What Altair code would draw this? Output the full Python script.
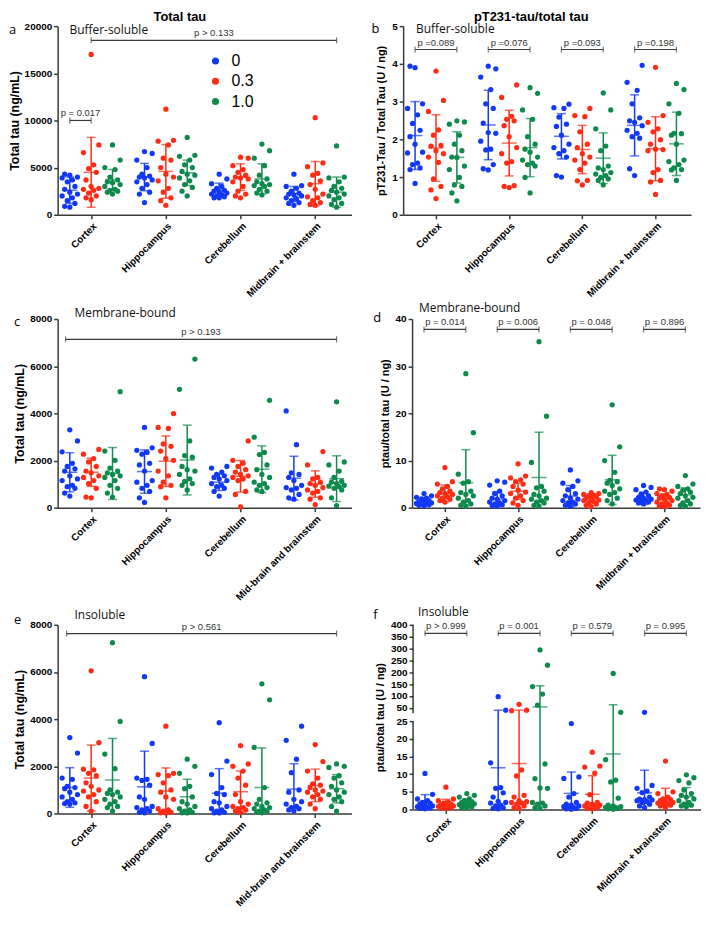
import altair as alt
import pandas as pd

FONT = "Liberation Sans"
SUBFONT = "Open Sans"
AX = "#3a3a3a"
DOSES = ["0", "0.3", "1.0"]
COLORS = ["#1238f7", "#ff2b14", "#0e8a4c"]
REG_TOP = ["Cortex", "Hippocampus", "Cerebellum", "Midbrain + brainstem"]
REG_MID = ["Cortex", "Hippocampus", "Cerebellum", "Mid-brain and brainstem"]

# ---------------- panel a : total tau, buffer-soluble (ng/mL) ----------------
A_CORTEX = [[4300, 4200, 4000, 3900, 3700, 3500, 3000, 2700, 2400, 2200, 2000, 1800, 1500, 1200, 900, 800],
            [17000, 7400, 6600, 5300, 4900, 4500, 3700, 3000, 2800, 2700, 2600, 2300, 2000, 1800, 1600],
            [7400, 5800, 5000, 4800, 4000, 3700, 3500, 3400, 3200, 3000, 2700, 2600, 2500, 2400, 2200]]
A_HIPPO = [[6700, 6500, 5800, 5000, 4300, 4100, 4000, 3900, 3700, 3500, 3200, 2800, 2400, 2200, 1300],
           [11200, 7900, 7800, 7400, 6000, 5800, 5000, 4300, 4000, 3600, 2800, 2400, 1800, 1500, 1000],
           [8200, 6300, 6200, 5800, 5300, 5000, 4600, 4300, 4200, 3900, 3600, 3200, 2900, 2500, 2000]]
A_CEREB = [[4300, 3800, 3300, 3000, 2800, 2600, 2500, 2400, 2300, 2200, 2100, 2000, 1900, 1800, 1800],
           [6100, 6000, 5200, 4800, 4500, 4200, 4000, 3900, 3800, 3500, 3000, 2500, 2200, 2000, 1800],
           [7500, 6800, 6000, 5200, 4200, 3800, 3500, 3300, 3200, 3100, 3000, 2700, 2500, 2300, 2100]]
A_MIDB = [[4300, 3100, 3000, 2800, 2500, 2300, 2200, 2100, 2000, 1800, 1700, 1500, 1300, 1200, 1000],
          [10300, 5500, 5100, 4400, 4200, 3600, 3200, 2700, 2200, 1900, 1800, 1500, 1300, 1100, 1000],
          [7300, 4000, 3900, 3500, 3000, 2800, 2600, 2400, 2200, 2000, 1800, 1600, 1200, 1100, 800]]
A_MEAN = [[2600, 4500, 3700], [4000, 4600, 4450], [2650, 4000, 3800], [2200, 3300, 2400]]
A_SD = [[1400, 3700, 1100], [1450, 2850, 1350], [700, 1400, 1600], [800, 2350, 1600]]
A_BR_X1 = [0, 1]
A_BR_X2 = [1, 12.5]
A_BR_Y = [10000, 18500]
A_BR_T = ["p = 0.017", "p > 0.133"]

# ---------------- panel b : pT231/total tau, buffer-soluble ----------------
B_CORTEX = [[3.94, 3.90, 2.94, 2.82, 2.65, 2.42, 2.24, 2.07, 1.87, 1.66, 1.64, 1.37, 1.33, 1.24, 1.20, 0.83],
            [3.81, 3.03, 2.74, 2.25, 2.11, 1.84, 1.82, 1.70, 1.62, 1.53, 1.39, 0.95, 0.75, 0.66, 0.43],
            [2.49, 2.46, 2.40, 2.11, 1.87, 1.70, 1.53, 1.52, 1.29, 1.20, 0.99, 0.79, 0.75, 0.58, 0.37]]
B_HIPPO = [[3.94, 3.87, 3.65, 3.32, 2.94, 2.82, 2.43, 2.18, 2.16, 1.95, 1.74, 1.72, 1.33, 1.22, 1.19],
           [3.44, 3.11, 2.61, 2.53, 2.49, 2.36, 2.07, 1.78, 1.62, 1.41, 1.37, 0.77, 0.75, 0.72],
           [3.37, 3.22, 2.78, 2.53, 2.07, 1.87, 1.74, 1.66, 1.53, 1.45, 1.37, 1.33, 1.29, 0.99, 0.58]]
B_CEREB = [[2.93, 2.84, 2.82, 2.59, 2.40, 2.34, 2.11, 1.87, 1.78, 1.70, 1.62, 1.53, 1.04, 1.00],
           [2.82, 2.63, 2.60, 2.20, 1.87, 1.78, 1.62, 1.53, 1.45, 1.37, 1.20, 0.91, 0.90, 0.79],
           [3.23, 2.78, 2.28, 1.82, 1.70, 1.29, 1.24, 1.20, 1.12, 1.08, 1.04, 0.99, 0.95, 0.91, 0.79]]
B_MIDB = [[3.96, 3.51, 3.30, 2.94, 2.57, 2.49, 2.45, 2.36, 2.24, 2.16, 2.07, 2.03, 1.22, 1.04],
          [3.91, 2.63, 2.45, 2.28, 2.20, 1.99, 1.87, 1.74, 1.73, 1.70, 1.20, 1.12, 0.91, 0.87, 0.54],
          [3.48, 3.32, 2.94, 2.69, 2.16, 2.15, 2.11, 1.87, 1.45, 1.41, 1.33, 1.24, 1.20, 1.19, 0.91]]
B_MEAN = [[2.1, 1.77, 1.52], [2.38, 1.9, 1.78], [2.08, 1.73, 1.5], [2.37, 1.75, 1.88]]
B_SD = [[0.9, 0.88, 0.68], [0.92, 0.87, 0.77], [0.6, 0.64, 0.67], [0.81, 0.85, 0.84]]
B_BR_X1 = [0, 3.5, 7, 10.5]
B_BR_X2 = [2, 5.5, 9, 12.5]
B_BR_Y = [4.38, 4.38, 4.38, 4.38]
B_BR_T = ["p =0.089", "p =0.076", "p =0.093", "p =0.198"]

# ---------------- panel c : total tau, membrane-bound ----------------
C_CORTEX = [[3300, 2830, 2370, 1880, 1750, 1650, 1550, 1350, 1220, 1150, 950, 890, 820, 620, 490],
            [2470, 2270, 2080, 1940, 1750, 1550, 1480, 1350, 1280, 1150, 1020, 820, 450, 420],
            [4920, 2400, 2010, 1680, 1550, 1480, 1410, 1350, 1280, 1150, 950, 820, 620, 450]]
C_HIPPO = [[3400, 2540, 2430, 2340, 2270, 1880, 1810, 1550, 1150, 1080, 950, 820, 690, 420, 220],
           [3990, 3400, 3360, 2700, 2600, 2400, 2080, 2010, 1550, 1350, 1080, 950, 890, 420],
           [6300, 5020, 2830, 2210, 2140, 1750, 1610, 1550, 1410, 1220, 1110, 1020, 950, 750]]
C_CEREB = [[1750, 1680, 1510, 1410, 1350, 1280, 1220, 1150, 1020, 950, 890, 820, 690, 490],
           [2830, 2010, 1880, 1750, 1610, 1510, 1410, 1350, 1280, 1220, 1150, 690, 560, 30],
           [4550, 2990, 2340, 2250, 1810, 1610, 1410, 1280, 1080, 1020, 950, 850, 750, 690]]
C_MIDB = [[4100, 2670, 1480, 1410, 1280, 1150, 950, 850, 820, 750, 560, 420, 360],
          [2380, 1810, 1280, 1220, 1080, 1020, 950, 850, 750, 690, 620, 420, 360, 130],
          [4490, 1940, 1810, 1550, 1280, 1110, 1080, 1020, 950, 910, 890, 820, 750, 420, 90]]
C_MEAN = [[1500, 1500, 1450], [1530, 1970, 2020], [1080, 1330, 1630], [1250, 1000, 1230]]
C_SD = [[830, 600, 1100], [920, 1070, 1480], [350, 670, 990], [930, 560, 970]]
C_BR_X1 = [-0.2]
C_BR_X2 = [12.5]
C_BR_Y = [7140]
C_BR_T = ["p > 0.193"]

# ---------------- panel d : ptau/total tau, membrane-bound ----------------
D_CORTEX = [[3.0, 2.5, 2.2, 2.0, 1.8, 1.5, 1.3, 1.2, 1.0, 0.9, 0.8, 0.7, 0.6, 0.5, 0.4],
            [8.5, 5.5, 5.0, 4.5, 4.0, 3.5, 3.2, 3.0, 2.8, 2.5, 2.3, 2.0, 1.8, 1.5, 1.2],
            [28.4, 15.9, 7.1, 5.5, 5.2, 3.5, 3.2, 2.8, 2.5, 2.0, 1.5, 1.2, 0.8, 0.5, 0.3]]
D_HIPPO = [[5.7, 5.4, 4.8, 3.5, 3.0, 2.5, 2.0, 1.8, 1.5, 1.2, 1.0, 0.8, 0.6, 0.4, 0.3],
           [9.3, 6.7, 6.3, 5.9, 5.5, 5.0, 4.5, 3.7, 3.3, 3.0, 2.5, 2.0, 1.5, 1.0, 0.5],
           [35.2, 19.4, 9.6, 4.5, 4.2, 3.5, 2.8, 2.5, 2.0, 1.8, 1.5, 1.2, 1.0, 0.5, 0.3]]
D_CEREB = [[8.0, 5.7, 5.2, 4.5, 3.8, 3.0, 2.5, 2.0, 1.8, 1.5, 1.2, 1.0, 0.8, 0.5, 0.3],
           [3.2, 3.0, 2.8, 2.6, 2.5, 2.3, 2.0, 1.8, 1.6, 1.5, 1.3, 1.0, 0.8, 0.5, 0.2],
           [21.8, 12.9, 10.0, 7.5, 5.8, 5.5, 5.2, 4.7, 4.0, 3.5, 3.2, 2.8, 2.0, 1.5, 0.8]]
D_MIDB = [[4.7, 4.3, 3.8, 3.3, 2.8, 2.5, 2.2, 2.0, 1.8, 1.6, 1.5, 1.4, 1.2, 1.0, 0.8],
          [4.0, 3.8, 3.5, 3.0, 2.8, 2.5, 2.2, 2.0, 1.8, 1.5, 1.2, 1.0, 0.8, 0.5, 0.3, 0.2],
          [6.8, 5.0, 4.5, 4.0, 3.7, 3.3, 3.0, 2.5, 2.2, 2.0, 1.5, 1.0, 0.8, 0.5, 0.3]]
D_MEAN = [[1.35, 3.0, 5.3], [1.85, 3.5, 6.4], [2.45, 2.0, 5.9], [2.0, 1.8, 2.7]]
D_SD = [[0.85, 1.8, 7.0], [1.55, 1.7, 9.6], [2.25, 0.9, 5.2], [1.3, 1.1, 1.5]]
D_BR_X1 = [0, 3.5, 7, 10.5]
D_BR_X2 = [2, 5.5, 9, 12.5]
D_BR_Y = [37.8, 37.8, 37.8, 37.8]
D_BR_T = ["p = 0.014", "p = 0.006", "p = 0.048", "p = 0.896"]

# ---------------- panel e : total tau, insoluble ----------------
E_CORTEX = [[3220, 2560, 1500, 1450, 1150, 1100, 1050, 900, 800, 700, 600, 500, 450, 420, 400],
            [6050, 3000, 1880, 1850, 1700, 1600, 1300, 1150, 1000, 950, 800, 700, 500, 300, 100],
            [7240, 3900, 2520, 1900, 1000, 900, 850, 800, 700, 600, 500, 400, 300, 250, 100]]
E_HIPPO = [[5800, 2970, 1500, 1450, 1400, 1200, 700, 600, 300, 250, 200, 150, 100, 50, 30],
           [3700, 1700, 1650, 1600, 1300, 1000, 900, 700, 600, 200, 150, 100, 50, 30, 20],
           [2300, 2000, 1700, 1150, 1050, 700, 500, 400, 300, 200, 150, 100, 50, 30, 20]]
E_CEREB = [[3850, 2220, 1650, 1100, 850, 800, 500, 450, 300, 200, 150, 100, 50, 30, 20],
           [2880, 2100, 2000, 1800, 1500, 1200, 800, 500, 400, 300, 250, 200, 150, 100, 50],
           [5500, 4820, 2800, 1100, 600, 450, 400, 300, 250, 200, 150, 100, 80, 50, 30]]
E_MIDB = [[3700, 3100, 2300, 1730, 1000, 900, 600, 500, 400, 300, 250, 200, 150, 100],
          [2920, 2200, 1800, 1500, 1250, 1200, 1100, 1000, 950, 900, 800, 700, 600, 400, 200],
          [2100, 2000, 1950, 1600, 1500, 1300, 1150, 1000, 900, 800, 700, 600, 500, 300, 100]]
E_MEAN = [[1100, 1500, 1420], [1130, 950, 710], [860, 920, 1100], [1030, 1190, 1050]]
E_SD = [[840, 1400, 1760], [1510, 980, 740], [1040, 880, 1680], [1080, 690, 600]]
E_BR_X1 = [-0.15]
E_BR_X2 = [12.5]
E_BR_Y = [7630]
E_BR_T = ["p > 0.561"]

# ---------------- panel f : ptau/total tau, insoluble (broken axis) ----------------
F_CORTEX = [[10.2, 4.3, 3.0, 2.5, 2.0, 1.8, 1.5, 1.3, 1.0, 0.8, 0.6, 0.5, 0.4, 0.3, 0.2],
            [6.3, 3.0, 2.5, 2.0, 1.8, 1.5, 1.3, 1.2, 1.0, 0.9, 0.8, 0.6, 0.5, 0.4, 0.3],
            [4.5, 4.0, 3.5, 3.0, 2.5, 2.2, 2.0, 1.8, 1.6, 1.4, 1.2, 1.0, 0.8, 0.6, 0.5]]
F_HIPPO = [[97, 40, 13.2, 6.2, 6.0, 4.7, 3.5, 2.3, 2.0, 1.8, 1.2, 1.0, 0.5, 0.3, 0.2],
           [65, 40, 38, 11.2, 9.5, 4.0, 3.5, 2.5, 2.2, 2.0, 1.8, 1.5, 1.0, 0.5, 0.3],
           [294, 230, 140, 108, 62, 12.9, 8.7, 6.1, 6.0, 2.0, 1.8, 1.5, 1.0, 0.5, 0.3]]
F_CEREB = [[24.3, 9.2, 8.8, 4.5, 3.5, 2.0, 1.5, 1.2, 1.0, 0.8, 0.5, 0.4, 0.3, 0.2, 0.1],
           [16.2, 12.3, 12.0, 10.3, 4.2, 2.0, 1.8, 1.5, 1.2, 1.0, 0.8, 0.5, 0.4, 0.3, 0.2],
           [195, 31, 14.1, 8.3, 7.8, 3.2, 1.2, 1.0, 0.8, 0.6, 0.5, 0.4, 0.3, 0.2, 0.1]]
F_MIDB = [[31, 6.8, 6.0, 5.2, 4.8, 3.5, 2.9, 2.8, 2.7, 2.5, 2.2, 2.0, 1.5, 1.0, 0.5],
          [13.7, 5.0, 4.5, 3.5, 3.0, 2.8, 2.5, 2.2, 2.0, 1.8, 1.6, 1.5, 1.2, 1.0, 0.5],
          [9.8, 9.0, 8.2, 7.5, 5.5, 4.5, 4.0, 3.5, 3.0, 2.5, 2.0, 1.5, 1.2, 1.0, 0.8]]
F_MEAN = [[2.0, 1.5, 1.8], [11.8, 13.0, 54], [4.55, 4.3, 15.7], [4.7, 3.0, 3.6]]
F_SD = [[2.2, 1.4, 1.2], [28.2, 27.0, 89], [6.05, 5.25, 47.3], [6.4, 3.0, 2.6]]
F_BR_X1 = [0, 3.5, 7, 10.5]
F_BR_X2 = [2, 5.5, 9, 12.5]
F_BR_Y = [364, 364, 364, 364]
F_BR_T = ["p > 0.999", "p = 0.001", "p = 0.579", "p = 0.995"]
F_TICKS = [0, 5, 10, 15, 20, 25, 50, 100, 150, 200, 250, 300, 350, 400]
F_BREAK = [25, 27.6]

JIT = "[0, -0.24, 0.24, -0.12, 0.12, -0.36, 0.36]"
XSCALE = alt.Scale(domain=[-0.57, 13.2], nice=False, zero=False)
CSCALE = alt.Scale(domain=DOSES, range=COLORS)
LEGEND = alt.Legend(title=None, orient="none", legendX=151, legendY=27, symbolType="circle",
                    symbolSize=50, labelFontSize=16, labelFont=FONT, rowPadding=4.5,
                    symbolStrokeWidth=0, labelOffset=8, padding=0)


def panel(groups, means, sds, regions, yscale, yticks, ytitle, tsize, tpad,
          letter, lpos, sub, spos, br, W, H, title=None, broken=False):
    rows = []
    for g in range(4):
        for d in range(3):
            for v in groups[g][d]:
                rows.append({"g": g, "d": d, "dose": DOSES[d], "v": v})
    pdf = pd.DataFrame(rows)
    sdf = pd.DataFrame([{"g": g, "d": d, "dose": DOSES[d], "m": means[g][d], "s": sds[g][d]}
                        for g in range(4) for d in range(3)])
    names = ",".join("'" + r + "'" for r in regions)
    xaxis = alt.Axis(values=[1, 4.5, 8, 11.5], labelExpr="[" + names + "][round((datum.value - 1) / 3.5)]",
                     title=None, labelAngle=-45, labelAlign="right", labelBaseline="top",
                     labelFontSize=10, labelPadding=2, grid=False, labelOverlap=False, labelLimit=0)
    yaxis = alt.Axis(values=yticks, title=ytitle, titleFontSize=tsize, titlePadding=tpad, format="d",
                     grid=False, domain=not broken, labelFontSize=10, labelOverlap=False)
    color = alt.Color("dose:N", scale=CSCALE, legend=LEGEND)
    colorn = alt.Color("dose:N", scale=CSCALE, legend=None)

    def X(f):
        return alt.X(f, scale=XSCALE, axis=xaxis)

    def Y(f):
        return alt.Y(f, scale=yscale, axis=yaxis)

    pts = (alt.Chart(pdf)
           .transform_window(rk="row_number()", groupby=["g", "d"], sort=[alt.SortField("v", order="ascending")])
           .transform_calculate(xp="datum.g * 3.5 + datum.d + " + JIT + "[(datum.rk - 1) % 7]")
           .mark_circle(size=28, opacity=1)
           .encode(x=X("xp:Q"), y=Y("v:Q"), color=color))
    st = alt.Chart(sdf).transform_calculate(xp="datum.g * 3.5 + datum.d", hi="datum.m + datum.s",
                                            lo="max(datum.m - datum.s, 0)")
    bar = st.mark_rule(strokeWidth=1.5).encode(x=X("xp:Q"), y=Y("lo:Q"), y2="hi:Q", color=colorn)
    mean = st.mark_tick(orient="horizontal", size=15, thickness=1.5).encode(
        x=X("xp:Q"), y=Y("m:Q"), color=colorn)
    caphi = st.mark_tick(orient="horizontal", size=9, thickness=1.5).encode(
        x=X("xp:Q"), y=Y("hi:Q"), color=colorn)
    caplo = st.transform_filter("datum.m - datum.s > 0").mark_tick(orient="horizontal", size=9, thickness=1.5).encode(
        x=X("xp:Q"), y=Y("lo:Q"), color=colorn)

    bdf = pd.DataFrame({"x1": br[0], "x2": br[1], "y": br[2], "t": br[3]})
    bb = alt.Chart(bdf)
    brule = bb.mark_rule(color=AX, strokeWidth=1.2).encode(x=X("x1:Q"), x2="x2:Q", y=Y("y:Q"))
    bc1 = bb.mark_tick(orient="vertical", size=6, thickness=1.2, color=AX).encode(x=X("x1:Q"), y=Y("y:Q"))
    bc2 = bb.mark_tick(orient="vertical", size=6, thickness=1.2, color=AX).encode(x=X("x2:Q"), y=Y("y:Q"))
    btxt = bb.transform_calculate(xm="(datum.x1 + datum.x2) / 2").mark_text(
        font=FONT, fontSize=9.5, color="#333333", dy=-4, baseline="alphabetic").encode(
        x=X("xm:Q"), y=Y("y:Q"), text="t:N")

    lt = alt.Chart(pd.DataFrame({"t": [letter]})).mark_text(
        align="left", baseline="middle", font=SUBFONT, fontSize=13, color="black").encode(
        x=alt.value(lpos[0]), y=alt.value(lpos[1]), text="t:N")
    stt = alt.Chart(pd.DataFrame({"t": [sub]})).mark_text(
        align="left", baseline="middle", font=SUBFONT, fontSize=12, color="#111111").encode(
        x=alt.value(spos[0]), y=alt.value(spos[1]), text="t:N")

    layers = [pts, bar, mean, caphi, caplo, brule, bc1, bc2, btxt, lt, stt]
    if broken:
        adf = pd.DataFrame({"y1": [0, F_BREAK[1]], "y2": [F_BREAK[0], 400]})
        axr = alt.Chart(adf).mark_rule(color=AX, strokeWidth=1.5).encode(
            x=alt.value(0), y=Y("y1:Q"), y2="y2:Q")
        layers.append(axr)
    ch = alt.layer(*layers).properties(width=W, height=H)
    if title:
        ch = ch.properties(title=alt.TitleParams(title, frame="bounds", anchor="middle", fontSize=13,
                                                 font=FONT, fontWeight="bold", offset=-3, color="black"))
    return ch


WL, WR, H = 296, 290, 190
HF = 186

pa = panel([A_CORTEX, A_HIPPO, A_CEREB, A_MIDB], A_MEAN, A_SD, REG_TOP,
           alt.Scale(domain=[0, 20000], nice=False, zero=False), [0, 5000, 10000, 15000, 20000],
           "Total tau (ng/mL)", 12.5, 3, "a", (-49, 4), "Buffer-soluble", (12, 4),
           (A_BR_X1, A_BR_X2, A_BR_Y, A_BR_T), WL, H, title="Total tau")
pb = panel([B_CORTEX, B_HIPPO, B_CEREB, B_MIDB], B_MEAN, B_SD, REG_TOP,
           alt.Scale(domain=[0, 5], nice=False, zero=False), [0, 1, 2, 3, 4, 5],
           "pT231-Tau / Total Tau (U / ng)", 11, 5, "b", (-32, 3), "Buffer-soluble", (13, 3),
           (B_BR_X1, B_BR_X2, B_BR_Y, B_BR_T), WR, H, title="pT231-tau/total tau")
pc = panel([C_CORTEX, C_HIPPO, C_CEREB, C_MIDB], C_MEAN, C_SD, REG_MID,
           alt.Scale(domain=[0, 8000], nice=False, zero=False), [0, 2000, 4000, 6000, 8000],
           "Total tau (ng/mL)", 12.5, 3, "c", (-44, 3), "Membrane-bound", (17, -6),
           (C_BR_X1, C_BR_X2, C_BR_Y, C_BR_T), WL, H)
pd_ = panel([D_CORTEX, D_HIPPO, D_CEREB, D_MIDB], D_MEAN, D_SD, REG_TOP,
            alt.Scale(domain=[0, 40], nice=False, zero=False), [0, 10, 20, 30, 40],
            "ptau/total tau (U / ng)", 11, 5, "d", (-39, -1), "Membrane-bound", (7, -11),
            (D_BR_X1, D_BR_X2, D_BR_Y, D_BR_T), WR, H)
pe = panel([E_CORTEX, E_HIPPO, E_CEREB, E_MIDB], E_MEAN, E_SD, REG_MID,
           alt.Scale(domain=[0, 8000], nice=False, zero=False), [0, 2000, 4000, 6000, 8000],
           "Total tau (ng/mL)", 12.5, 3, "e", (-44, -5), "Insoluble", (17, -10),
           (E_BR_X1, E_BR_X2, E_BR_Y, E_BR_T), WL, H)
fscale = alt.Scale(domain=[0, F_BREAK[0], F_BREAK[1], 400],
                   range=[HF, HF * 101.7 / 195, HF * 93.3 / 195, 0], nice=False, zero=False)
pf = panel([F_CORTEX, F_HIPPO, F_CEREB, F_MIDB], F_MEAN, F_SD, REG_TOP,
           fscale, F_TICKS, "ptau/total tau (U / ng)", 11, 5, "f", (-40, -10), "Insoluble", (5, -13),
           (F_BR_X1, F_BR_X2, F_BR_Y, F_BR_T), WR, HF, broken=True)

chart = alt.vconcat(
    alt.hconcat(pa, pb, spacing=20),
    alt.hconcat(pc, pd_, spacing=22),
    alt.hconcat(pe, pf, spacing=22),
    spacing=3,
).properties(padding={"left": 0, "top": 0, "right": 0, "bottom": 2}).configure_view(stroke=None).configure_axis(
    labelFont=FONT, labelFontWeight="bold", labelColor="black",
    titleFont=FONT, titleFontWeight="bold", titleColor="black",
    domainColor=AX, domainWidth=1.5, tickColor=AX, tickWidth=1.5, tickSize=4,
).configure_concat(spacing=20)

chart.save("out.html", embed_options={"renderer": "svg", "actions": False})
